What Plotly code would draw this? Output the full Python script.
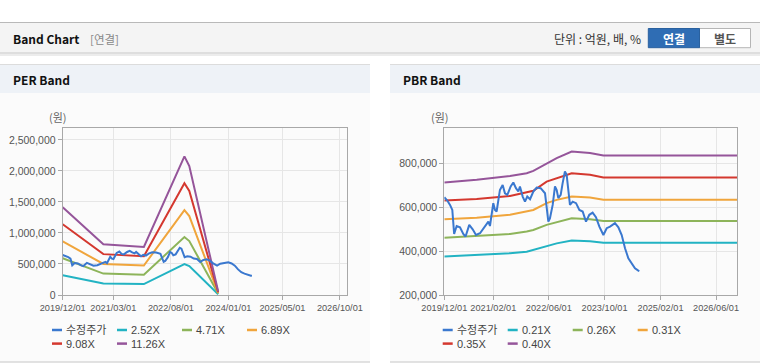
import plotly.graph_objects as go

W, H = 760, 364

# ---------------- data ----------------
price_dates = [
    "2019-12-01", "2019-12-27", "2020-01-20", "2020-02-09", "2020-02-25", "2020-03-18",
    "2020-04-16", "2020-05-15", "2020-06-04", "2020-07-06", "2020-08-05", "2020-09-03",
    "2020-10-08", "2020-11-20", "2020-12-20", "2021-01-03", "2021-02-01", "2021-02-16",
    "2021-03-02", "2021-03-31", "2021-04-24", "2021-05-14", "2021-06-04", "2021-07-03",
    "2021-07-26", "2021-08-18", "2021-09-08", "2021-09-22", "2021-10-16", "2021-11-05",
    "2021-11-25", "2021-12-19", "2022-01-17", "2022-02-15", "2022-03-22", "2022-04-29",
    "2022-05-28", "2022-06-11", "2022-07-05", "2022-07-25", "2022-08-09", "2022-08-23",
    "2022-09-13", "2022-09-30", "2022-10-20", "2022-11-04", "2022-11-19", "2022-12-03",
    "2022-12-27", "2023-01-25", "2023-02-23", "2023-03-24", "2023-04-22", "2023-05-21",
    "2023-06-19", "2023-07-18", "2023-08-17", "2023-09-21", "2023-10-20", "2023-11-18",
    "2023-12-31", "2024-01-30", "2024-02-28", "2024-03-28", "2024-04-26", "2024-05-25",
    "2024-06-23", "2024-07-22", "2024-07-31",
]
price_values = [
    645000, 630000, 610000, 587000, 478000, 514000,
    508000, 478000, 466000, 519000, 499000, 473000,
    481000, 511000, 534000, 514000, 618000, 587000,
    580000, 678000, 701000, 663000, 656000, 694000,
    712000, 686000, 671000, 694000, 648000, 625000,
    648000, 636000, 671000, 689000, 686000, 663000,
    534000, 549000, 610000, 694000, 678000, 641000,
    656000, 709000, 762000, 747000, 678000, 610000,
    625000, 618000, 587000, 580000, 534000, 565000,
    575000, 554000, 511000, 473000, 504000, 511000,
    527000, 508000, 473000, 413000, 367000, 344000,
    322000, 311000, 309000,
]

per_band_dates = ["2019-12-01", "2020-12-01", "2021-12-01", "2022-12-01", "2023-01-14", "2023-10-01"]
per_names = ["2.52X", "4.71X", "6.89X", "9.08X", "11.26X"]
per_252 = [318000, 186000, 176000, 500000, 466000, 12000]
per_471 = [592000, 345000, 326000, 935000, 870000, 23000]
per_689 = [865000, 500000, 476000, 1368000, 1273000, 34000]
per_908 = [1140000, 659000, 625000, 1802000, 1677000, 44000]
per_1126 = [1414000, 817000, 775000, 2235000, 2080000, 55000]

pbr_band_dates = ["2019-12-01", "2020-09-09", "2021-06-27", "2021-11-20", "2022-01-17", "2022-05-13",
                  "2022-08-09", "2022-12-18", "2023-05-27", "2023-09-21", "2027-01-01"]
pbr_names = ["0.21X", "0.26X", "0.31X", "0.35X", "0.40X"]
pbr_021 = [375000, 381000, 390000, 397000, 405000, 423000, 435000, 448000, 445000, 438000, 438000]
pbr_026 = [461000, 469000, 478000, 489000, 496000, 519000, 531000, 549000, 545000, 537000, 537000]
pbr_031 = [545000, 552000, 565000, 580000, 587000, 618000, 633000, 648000, 644000, 633000, 633000]
pbr_035 = [630000, 637000, 651000, 666000, 674000, 716000, 732000, 754000, 747000, 735000, 735000]
pbr_040 = [712000, 724000, 742000, 754000, 765000, 800000, 823000, 853000, 846000, 835000, 835000]

price_name = "수정주가"
per_xticks = ["2019-12-01", "2021-03-01", "2022-08-01", "2024-01-01", "2025-05-01", "2026-10-01"]
per_xtick_text = ["2019/12/01", "2021/03/01", "2022/08/01", "2024/01/01", "2025/05/01", "2026/10/01"]
pbr_xticks = ["2019-12-01", "2021-02-01", "2022-06-01", "2023-10-01", "2025-02-01", "2026-06-01"]
pbr_xtick_text = ["2019/12/01", "2021/02/01", "2022/06/01", "2023/10/01", "2025/02/01", "2026/06/01"]
per_yticks = [0, 500000, 1000000, 1500000, 2000000, 2500000]
pbr_yticks = [200000, 400000, 600000, 800000]

colors = {
    "price": "#3a78cf",
    "b1": "#22b3c3",
    "b2": "#8db45a",
    "b3": "#f0a53c",
    "b4": "#d4382f",
    "b5": "#95559a",
}
band_color_keys = ["b1", "b2", "b3", "b4", "b5"]

# ---------------- helpers ----------------
def px(x):
    return x / W

def py(y):
    return (H - y) / H

FONT_KR = "Noto Sans CJK KR, Liberation Sans, sans-serif"
FONT_NUM = "Liberation Sans, Noto Sans CJK KR, sans-serif"

fig = go.Figure()

for vals, nm, ck in zip([per_252, per_471, per_689, per_908, per_1126], per_names, band_color_keys):
    fig.add_trace(go.Scatter(x=per_band_dates, y=vals, mode="lines", name=nm,
                             line=dict(color=colors[ck], width=2), xaxis="x", yaxis="y",
                             showlegend=False))
fig.add_trace(go.Scatter(x=price_dates, y=price_values, mode="lines", name=price_name,
                         line=dict(color=colors["price"], width=2), xaxis="x", yaxis="y",
                         showlegend=False))

for vals, nm, ck in zip([pbr_021, pbr_026, pbr_031, pbr_035, pbr_040], pbr_names, band_color_keys):
    fig.add_trace(go.Scatter(x=pbr_band_dates, y=vals, mode="lines", name=nm,
                             line=dict(color=colors[ck], width=2), xaxis="x2", yaxis="y2",
                             showlegend=False))
fig.add_trace(go.Scatter(x=price_dates, y=price_values, mode="lines", name=price_name,
                         line=dict(color=colors["price"], width=2), xaxis="x2", yaxis="y2",
                         showlegend=False))

axis_common = dict(
    showgrid=True, gridcolor="#e6e6e6", gridwidth=1,
    showline=True, linecolor="#a8a8a8", linewidth=1, mirror=True,
    ticks="outside", ticklen=4, tickcolor="#a8a8a8",
    zeroline=False, fixedrange=True, automargin=False,
)
xfont = dict(family=FONT_NUM, size=9.2, color="#555555")
yfont = dict(family=FONT_NUM, size=10.5, color="#555555")

Y0, Y1 = 128, 295
fig.update_layout(
    template="none",
    width=W, height=H,
    margin=dict(l=0, r=0, t=0, b=0, pad=0),
    paper_bgcolor="#ffffff",
    plot_bgcolor="#ffffff",
    showlegend=False,
    xaxis=dict(domain=[px(62.7), px(347)], type="date",
               range=["2019-12-01", "2026-12-04"], tickangle=0, tickfont=xfont,
               tickvals=per_xticks, ticktext=per_xtick_text, anchor="y", **axis_common),
    yaxis=dict(domain=[py(Y1), py(Y0)], range=[0, 2693000], tickfont=yfont,
               tickvals=per_yticks, tickformat=",d", anchor="x", **axis_common),
    xaxis2=dict(domain=[px(444.3), px(737.3)], type="date",
                range=["2019-12-01", "2026-12-04"], tickangle=0, tickfont=xfont,
                tickvals=pbr_xticks, ticktext=pbr_xtick_text, anchor="y2", **axis_common),
    yaxis2=dict(domain=[py(Y1), py(Y0)], range=[200000, 960000], tickfont=yfont,
                tickvals=pbr_yticks, tickformat=",d", anchor="x2", **axis_common),
)

shapes = []
annos = []

# top header bar
shapes.append(dict(type="rect", xref="paper", yref="paper", x0=0, x1=1, y0=py(53), y1=py(22),
                   fillcolor="#f4f4f4", line=dict(width=0), layer="below"))
shapes.append(dict(type="line", xref="paper", yref="paper", x0=0, x1=1, y0=py(22.5), y1=py(22.5),
                   line=dict(color="#b9b9b9", width=1)))
shapes.append(dict(type="line", xref="paper", yref="paper", x0=0, x1=1, y0=py(53), y1=py(53),
                   line=dict(color="#c8c8c8", width=1)))
shapes.append(dict(type="rect", xref="paper", yref="paper", x0=0, x1=1, y0=py(56), y1=py(53.5),
                   fillcolor="#ececec", line=dict(width=0), layer="below"))
annos.append(dict(text="<b>Band Chart</b>", x=px(11), y=py(39), xref="paper", yref="paper",
                  xanchor="left", yanchor="middle", showarrow=False,
                  font=dict(family=FONT_KR, size=12, color="#111111")))
annos.append(dict(text="[연결]", x=px(88), y=py(39), xref="paper", yref="paper",
                  xanchor="left", yanchor="middle", showarrow=False,
                  font=dict(family=FONT_KR, size=11.5, color="#888888")))
annos.append(dict(text="단위 : 억원, 배, %", x=px(643), y=py(39), xref="paper", yref="paper",
                  xanchor="right", yanchor="middle", showarrow=False,
                  font=dict(family=FONT_KR, size=12, color="#333333")))
# buttons
shapes.append(dict(type="rect", xref="paper", yref="paper", x0=px(699), x1=px(750.5), y0=py(47.7), y1=py(28.5),
                   fillcolor="#ffffff", line=dict(color="#b5b5b5", width=1)))
shapes.append(dict(type="rect", xref="paper", yref="paper", x0=px(648.3), x1=px(699.5), y0=py(47.7), y1=py(28.5),
                   fillcolor="#2f6db4", line=dict(color="#2a619f", width=1)))
annos.append(dict(text="<b>연결</b>", x=px(674), y=py(38.5), xref="paper", yref="paper",
                  xanchor="center", yanchor="middle", showarrow=False,
                  font=dict(family=FONT_KR, size=12, color="#ffffff")))
annos.append(dict(text="<b>별도</b>", x=px(725), y=py(38.5), xref="paper", yref="paper",
                  xanchor="center", yanchor="middle", showarrow=False,
                  font=dict(family=FONT_KR, size=12, color="#555555")))

# panels
for (x0, x1, title, unit_x) in [(0, 370, "PER Band", 47), (390, 760, "PBR Band", 429)]:
    shapes.append(dict(type="rect", xref="paper", yref="paper", x0=px(x0), x1=px(x1), y0=py(362), y1=py(64),
                       fillcolor="#fbfbfb", line=dict(width=0), layer="below"))
    shapes.append(dict(type="rect", xref="paper", yref="paper", x0=px(x0), x1=px(x1), y0=py(93), y1=py(64),
                       fillcolor="#eef2f7", line=dict(width=0), layer="below"))
    shapes.append(dict(type="line", xref="paper", yref="paper", x0=px(x0), x1=px(x1), y0=py(64.5), y1=py(64.5),
                       line=dict(color="#dcdcdc", width=1)))
    shapes.append(dict(type="line", xref="paper", yref="paper", x0=px(x0), x1=px(x1), y0=py(362), y1=py(362),
                       line=dict(color="#d8d8d8", width=1.5)))
    annos.append(dict(text="<b>" + title + "</b>", x=px(x0 + 11), y=py(79), xref="paper", yref="paper",
                      xanchor="left", yanchor="middle", showarrow=False,
                      font=dict(family=FONT_KR, size=12, color="#111111")))
    annos.append(dict(text="(원)", x=px(unit_x), y=py(117), xref="paper", yref="paper",
                      xanchor="left", yanchor="middle", showarrow=False,
                      font=dict(family=FONT_KR, size=11, color="#666666")))

# legends (drawn manually)
def add_legend(x_start, names, ckeys):
    for i, (nm, ck) in enumerate(zip(names, ckeys)):
        col, row = i % 4, i // 4
        xx = x_start + col * 65
        yy = 330 + row * 13.6
        shapes.append(dict(type="line", xref="paper", yref="paper", x0=px(xx), x1=px(xx + 10),
                           y0=py(yy), y1=py(yy), line=dict(color=colors[ck], width=2.5)))
        annos.append(dict(text=nm, x=px(xx + 12), y=py(yy), xref="paper", yref="paper",
                          xanchor="left", yanchor="middle", showarrow=False,
                          font=dict(family=FONT_NUM, size=11, color="#444444")))

add_legend(52, [price_name] + per_names, ["price"] + band_color_keys)
add_legend(442.7, [price_name] + pbr_names, ["price"] + band_color_keys)

fig.update_layout(shapes=shapes, annotations=annos)
fig.write_html("out.html", config={"displayModeBar": False},
               post_script="document.body.style.margin='0';document.body.style.padding='0';")
